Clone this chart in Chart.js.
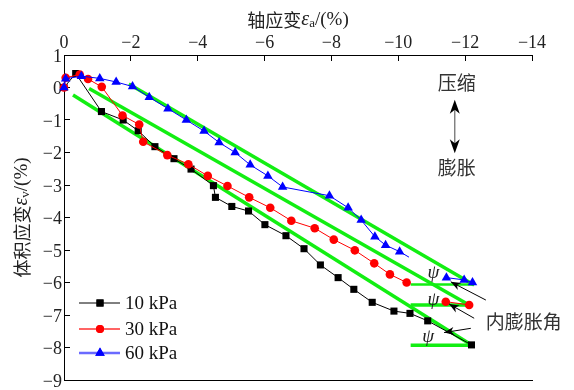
<!DOCTYPE html>
<html><head><meta charset="utf-8">
<script src="https://cdn.jsdelivr.net/npm/chart.js@4/dist/chart.umd.min.js"></script>
<style>html,body{margin:0;padding:0;background:#fff;}#wrap{width:574px;height:390px;position:relative;}</style>
</head><body><div id="wrap"><canvas id="c" width="574" height="390"></canvas></div>
<script>
// ---- data (axial strain %, volumetric strain %) ----
const seriesNames = ['10 kPa', '30 kPa', '60 kPa'];
const axial10 = [0, -0.35, -1.12, -1.77, -2.22, -2.72, -3.29, -3.80, -4.47, -4.53, -5.02, -5.52, -6.01, -6.64, -7.18, -7.67, -8.20, -8.67, -9.22, -9.87, -10.35, -10.88, -12.19];
const vol10   = [0, 0.43, -0.74, -1.00, -1.33, -1.82, -2.19, -2.51, -3.02, -3.38, -3.66, -3.80, -4.22, -4.56, -4.96, -5.46, -5.85, -6.21, -6.61, -6.88, -6.95, -7.18, -7.92];
const axial30 = [0, -0.05, -0.47, -0.72, -1.13, -1.75, -2.25, -2.37, -3.09, -3.72, -4.30, -4.89, -5.54, -6.17, -6.80, -7.50, -8.07, -8.70, -9.28, -9.75, -10.25, null, -11.42, -12.12];
const vol30   = [0, 0.30, 0.40, 0.26, 0.02, -0.86, -1.14, -1.67, -2.08, -2.36, -2.72, -3.03, -3.38, -3.70, -4.10, -4.33, -4.68, -5.01, -5.41, -5.75, -6.00, null, -6.59, -6.69];
const axial60 = [0, -0.05, -0.52, -1.07, -1.56, -2.05, -2.55, -3.11, -3.66, -4.19, -4.64, -5.12, -5.57, -6.10, -6.54, -7.94, -8.50, -8.89, -9.30, -9.62, -10.04, -10.32, null, -11.44, -11.97, -12.22];
const vol60   = [0, 0.27, 0.35, 0.28, 0.17, 0.03, -0.30, -0.65, -1.00, -1.34, -1.69, -2.00, -2.38, -2.72, -3.06, -3.33, -3.70, -4.08, -4.59, -4.85, -5.05, -5.22, null, -5.85, -5.92, -6.00];
// dilatancy fit lines (start/end) and their horizontal references
const fitAxial60 = [-1.94, -12.27];  const fitVol60 = [0.11, -6.08];
const fitAxial30 = [-0.75, -12.12];  const fitVol30 = [-0.03, -6.69];
const fitAxial10 = [-0.27, -12.19];  const fitVol10 = [-0.23, -7.92];
const flatAxial60 = [-10.37, -12.27]; const flatVol60 = [-6.06, -6.06];
const flatAxial30 = [-10.37, -12.12]; const flatVol30 = [-6.69, -6.69];
const flatAxial10 = [-10.37, -12.19]; const flatVol10 = [-7.93, -7.93];
// tick labels
const xTickValues = [0, -2, -4, -6, -8, -10, -12, -14];
const yTickValues = [1, 0, -1, -2, -3, -4, -5, -6, -7, -8, -9];

const pts = (xs, ys) => xs.map((x, i) => ({x: x === null ? xs[i - 1] : x, y: ys[i]}));
const fmt = v => (v < 0 ? '\u2212' + Math.abs(v) : String(v));
const SERIF = '"Liberation Serif", "Times New Roman", serif';
const CJK = '"Noto Sans CJK SC", sans-serif';
const GREEN = '#12ee12';

const blueBeforeGap = axial60.indexOf(null) - 1;

const series = [
  {label: seriesNames[0], data: pts(axial10, vol10), borderColor: '#000', backgroundColor: '#000', borderWidth: 1, pointStyle: 'rect', pointRadius: 5, pointBorderWidth: 0, clip: false, order: 2},
  {label: seriesNames[1], data: pts(axial30, vol30), borderColor: '#ff0000', backgroundColor: '#ff0000', borderWidth: 1, pointStyle: 'circle', pointRadius: 4.3, pointBorderWidth: 0, clip: false, order: 1},
  {label: seriesNames[2], data: pts(axial60, vol60), borderColor: '#0000ff', backgroundColor: '#0000ff', borderWidth: 1, pointStyle: 'triangle',
    pointRadius: ctx => (ctx.dataIndex === blueBeforeGap ? 0 : 5.5), pointBorderWidth: 0, clip: false, order: 0}
];
const greens = [
  [fitAxial60, fitVol60, 3.5], [fitAxial30, fitVol30, 3.5], [fitAxial10, fitVol10, 3.5],
  [flatAxial60, flatVol60, 2.5], [flatAxial30, flatVol30, 3.5], [flatAxial10, flatVol10, 3.5]
].map(([xs, ys, w]) => ({label: 'fit', data: pts(xs, ys), borderColor: GREEN, backgroundColor: GREEN, borderWidth: w, pointRadius: 0, clip: false, order: 3}));

function arrowHead(ctx, x1, y1, x2, y2, len, half) {
  const a = Math.atan2(y2 - y1, x2 - x1);
  ctx.save(); ctx.translate(x2, y2); ctx.rotate(a);
  ctx.beginPath(); ctx.moveTo(0, 0); ctx.lineTo(-len, -half); ctx.lineTo(-len * 0.7, 0); ctx.lineTo(-len, half); ctx.closePath();
  ctx.fill(); ctx.restore();
}
function rich(ctx, parts, x, y) {
  let w = 0;
  parts.forEach(p => { ctx.font = p.f; p.w = ctx.measureText(p.t).width; w += p.w; });
  let cx = x - w / 2;
  parts.forEach(p => { ctx.font = p.f; ctx.fillText(p.t, cx, y + (p.dy || 0)); cx += p.w; });
}

// annotation positions in data units
const psiMarks = [[-11.05, -5.70], [-11.05, -6.54], [-10.89, -7.67]];
const angleArrows = [[-12.62, -6.54, -11.57, -5.98], [-12.27, -7.10, -11.52, -6.66], [-12.17, -7.41, -11.37, -7.54]];

const annot = {
  id: 'annot',
  afterDraw(chart) {
    const {ctx, chartArea: ca} = chart;
    const X = chart.scales.x, Y = chart.scales.y;
    ctx.save();
    ctx.fillStyle = '#222'; ctx.textBaseline = 'middle'; ctx.textAlign = 'left';
    // axis titles
    rich(ctx, [
      {t: '轴应变', f: '18px ' + CJK},
      {t: 'ε', f: 'italic 20px ' + SERIF},
      {t: 'a', f: '13px ' + SERIF, dy: 4},
      {t: '/(%)', f: '19px ' + SERIF}
    ], (ca.left + ca.right) / 2, 20);
    ctx.save(); ctx.translate(22, (ca.top + ca.bottom) / 2); ctx.rotate(-Math.PI / 2);
    rich(ctx, [
      {t: '体积应变', f: '18px ' + CJK},
      {t: 'ε', f: 'italic 20px ' + SERIF},
      {t: 'v', f: '13px ' + SERIF, dy: 4},
      {t: '/(%)', f: '19px ' + SERIF}
    ], 0, 0);
    ctx.restore();
    // legend
    const styles = ['rect', 'circle', 'triangle'];
    const cols = ['#000', '#ff0000', '#0000ff'];
    const lineCols = ['#000', '#ff3030', '#6a6aff'];
    const lineW = [1, 1.5, 2.5];
    const rad = [5, 4, 5.5];
    const rowsY = [ca.bottom - 77, ca.bottom - 51, ca.bottom - 27];
    for (let i = 0; i < 3; i++) {
      const y = rowsY[i];
      ctx.strokeStyle = lineCols[i]; ctx.lineWidth = lineW[i];
      ctx.beginPath(); ctx.moveTo(ca.left + 15, y); ctx.lineTo(ca.left + 56, y); ctx.stroke();
      ctx.fillStyle = cols[i];
      Chart.helpers.drawPoint(ctx, {pointStyle: styles[i], radius: rad[i], borderWidth: 0}, ca.left + 36, y);
      ctx.fill();
      ctx.fillStyle = '#111'; ctx.font = '19px ' + SERIF; ctx.textAlign = 'left';
      ctx.fillText(seriesNames[i], ca.left + 61, y + 1);
    }
    // psi labels
    ctx.fillStyle = '#222'; ctx.font = 'italic 19px ' + SERIF; ctx.textAlign = 'center';
    psiMarks.forEach(([a, v]) => ctx.fillText('\u03C8', X.getPixelForValue(a), Y.getPixelForValue(v)));
    // arrows to the angles
    ctx.strokeStyle = '#000'; ctx.fillStyle = '#000'; ctx.lineWidth = 1;
    angleArrows.forEach(([a1, v1, a2, v2]) => {
      const x1 = X.getPixelForValue(a1), y1 = Y.getPixelForValue(v1), x2 = X.getPixelForValue(a2), y2 = Y.getPixelForValue(v2);
      ctx.beginPath(); ctx.moveTo(x1, y1); ctx.lineTo(x2, y2); ctx.stroke();
      arrowHead(ctx, x1, y1, x2, y2, 10, 4);
    });
    ctx.fillStyle = '#333'; ctx.font = '19px ' + CJK; ctx.textAlign = 'left';
    ctx.fillText('内膨胀角', X.getPixelForValue(-12.62), Y.getPixelForValue(-7.22));
    // compression / dilation indicator
    ctx.textAlign = 'center'; ctx.font = '19px ' + CJK;
    const ax = X.getPixelForValue(-11.69);
    ctx.fillText('压缩', ax + 2, Y.getPixelForValue(0.14));
    ctx.fillText('膨胀', ax + 2, Y.getPixelForValue(-2.48));
    const yTop = Y.getPixelForValue(-0.38), yBot = Y.getPixelForValue(-2.02);
    ctx.strokeStyle = '#666'; ctx.lineWidth = 1.2;
    ctx.beginPath(); ctx.moveTo(ax, yTop + 4); ctx.lineTo(ax, yBot - 4); ctx.stroke();
    ctx.fillStyle = '#000';
    arrowHead(ctx, ax, yTop + 20, ax, yTop, 14, 5);
    arrowHead(ctx, ax, yBot - 20, ax, yBot, 14, 5);
    ctx.restore();
  }
};

const noPadH = s => { s.paddingLeft = 0; s.paddingRight = 0; s.paddingTop = 0; s.paddingBottom = 0; };

new Chart(document.getElementById('c'), {
  type: 'line',
  data: {datasets: [...series, ...greens]},
  options: {
    responsive: false, animation: false, devicePixelRatio: 1,
    layout: {padding: {left: 0, top: 0, right: 42, bottom: 10}},
    plugins: {legend: {display: false}, tooltip: {enabled: false}},
    elements: {line: {tension: 0}},
    scales: {
      x: {
        type: 'linear', position: 'top', min: -14, max: 0, reverse: true,
        afterBuildTicks: s => { s.ticks = xTickValues.map(v => ({value: v})); },
        afterFit: s => { s.height = 55; noPadH(s); },
        ticks: {callback: v => fmt(v), font: {family: SERIF, size: 18}, color: '#222', padding: 7, maxRotation: 0, autoSkip: false},
        grid: {drawOnChartArea: false, drawTicks: true, tickLength: -6, color: '#000'},
        border: {display: true, color: '#000', width: 1}
      },
      x2: {
        type: 'linear', position: 'bottom', min: -14, max: 0, reverse: true,
        afterFit: s => { s.height = 0; noPadH(s); },
        ticks: {display: false}, grid: {display: false},
        border: {display: true, color: '#000', width: 1}
      },
      y: {
        type: 'linear', position: 'left', min: -9, max: 1,
        afterBuildTicks: s => { s.ticks = yTickValues.map(v => ({value: v})); },
        afterFit: s => { s.width = 64; noPadH(s); },
        ticks: {callback: v => fmt(v), font: {family: SERIF, size: 18}, color: '#222', padding: 8, labelOffset: 2, autoSkip: false},
        grid: {drawOnChartArea: false, drawTicks: true, tickLength: -6, color: '#000'},
        border: {display: true, color: '#000', width: 1}
      }
    }
  },
  plugins: [annot]
});
</script></body></html>
